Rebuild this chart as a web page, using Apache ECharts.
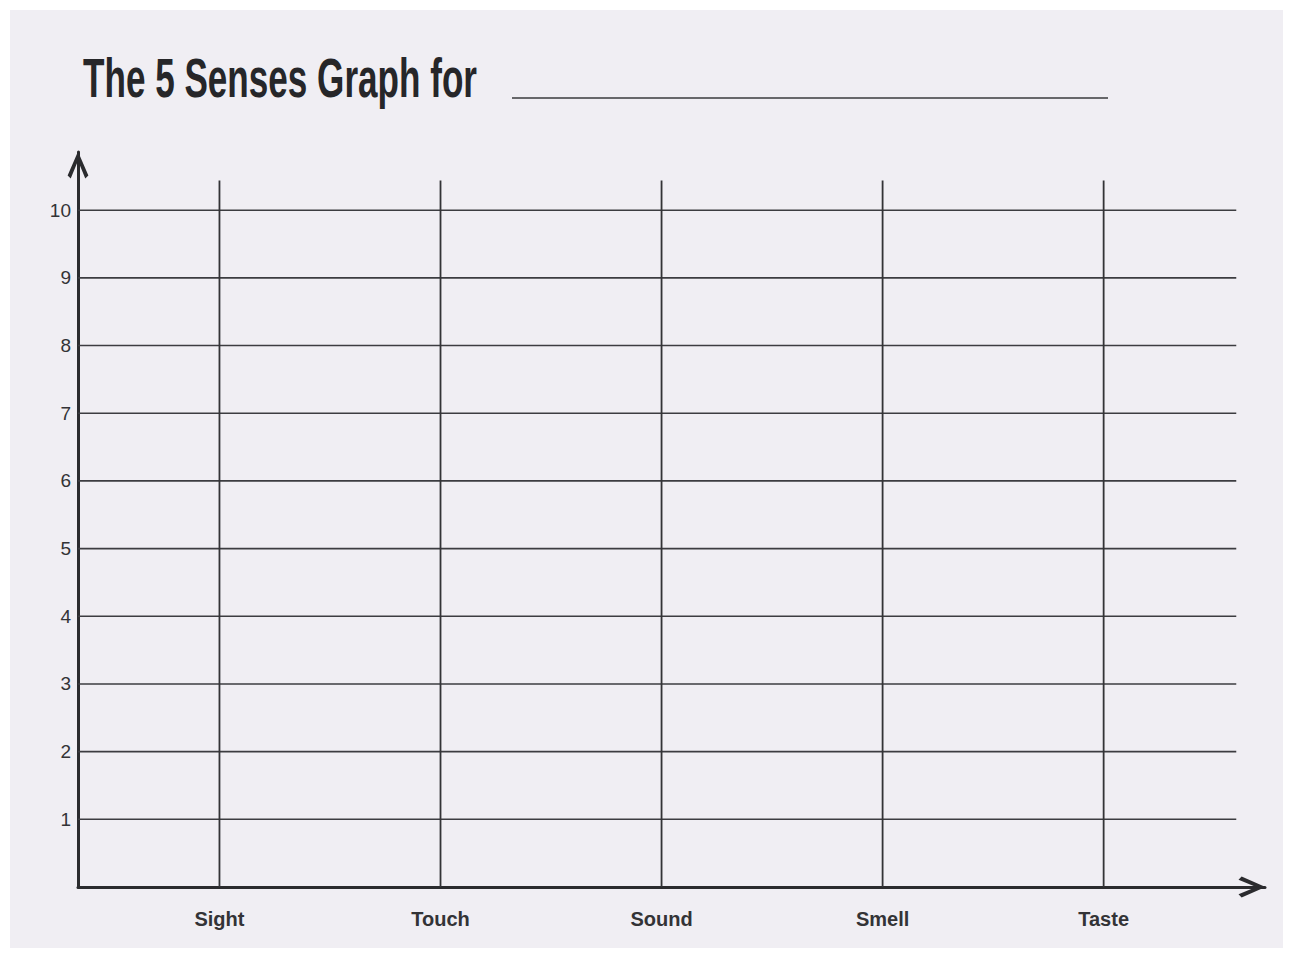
<!DOCTYPE html>
<html>
<head>
<meta charset="utf-8">
<script src="https://cdn.jsdelivr.net/npm/echarts@6/dist/echarts.min.js"></script>
<style>
  html, body { margin: 0; padding: 0; background: #ffffff; }
  #paper { position: absolute; left: 10px; top: 10px; width: 1273px; height: 938px; background: #f0eef3; }
  #chart { position: absolute; left: 0; top: 0; width: 1293px; height: 958px; }
</style>
</head>
<body>
<div id="paper"></div>
<div id="chart"></div>
<script>
// ---- data ----
const titleText = 'The 5 Senses Graph for';
const categories = ['Sight', 'Touch', 'Sound', 'Smell', 'Taste'];
const categoryPositions = [1, 2, 3, 4, 5];
const yTicks = [1, 2, 3, 4, 5, 6, 7, 8, 9, 10];
const values = [null, null, null, null, null]; // blank worksheet: no values filled in

// ---- layout constants ----
const X_MIN = 0.36, X_MAX = 5.73, H_LINE_END = 5.6;
const Y_MIN = 0, Y_MAX = 10.86, V_LINE_TOP = 10.44;
const FONT = "'Liberation Sans', Arial, sans-serif";
const TITLE_FONT_SIZE = 56;
const TITLE_WIDTH = 394;
const INK = '#2b2b2e';
const chevron = 'path://M10 0 L20 23 L17 26 L10 9 L3 26 L0 23 Z';

// measure the title so it can be condensed to the reference width
const ctx = document.createElement('canvas').getContext('2d');
ctx.font = 'bold ' + TITLE_FONT_SIZE + 'px ' + FONT;
const titleScale = TITLE_WIDTH / ctx.measureText(titleText).width;

const chart = echarts.init(document.getElementById('chart'), null, { renderer: 'svg' });

chart.setOption({
  backgroundColor: 'transparent',
  animation: false,
  graphic: [
    {
      type: 'text', x: 83, y: 50, scaleX: titleScale, scaleY: 1, originX: 0, originY: 0,
      style: {
        text: titleText, fill: '#262629', verticalAlign: 'top', align: 'left',
        font: 'bold ' + TITLE_FONT_SIZE + 'px ' + FONT
      }
    },
    {
      type: 'line',
      shape: { x1: 512, y1: 98, x2: 1108, y2: 98 },
      style: { stroke: '#3a3a3d', lineWidth: 1.5 }
    }
  ],
  grid: { left: 78, right: 28, top: 152, bottom: 71, containLabel: false },
  xAxis: {
    type: 'value', min: X_MIN, max: X_MAX,
    axisLine: {
      show: true, lineStyle: { color: INK, width: 3 },
      symbol: ['none', chevron], symbolSize: [21, 27], symbolOffset: [0, -13]
    },
    axisTick: { show: false },
    splitLine: { show: false },
    axisLabel: {
      customValues: categoryPositions,
      formatter: v => categories[Math.round(v) - 1] || '',
      margin: 22, fontFamily: FONT, fontSize: 20, fontWeight: 'bold', color: '#333336'
    }
  },
  yAxis: {
    type: 'value', min: Y_MIN, max: Y_MAX,
    axisLine: {
      show: true, lineStyle: { color: INK, width: 3 },
      symbol: ['none', chevron], symbolSize: [21, 27], symbolOffset: [0, -13]
    },
    axisTick: { show: false },
    splitLine: { show: false },
    axisLabel: {
      customValues: yTicks,
      margin: 7, fontFamily: FONT, fontSize: 19, color: '#333336'
    }
  },
  series: [
    {
      name: 'hlines', type: 'custom', silent: true,
      data: yTicks.map(v => [v]),
      renderItem: (params, api) => {
        const v = api.value(0);
        const p1 = api.coord([X_MIN, v]);
        const p2 = api.coord([H_LINE_END, v]);
        return { type: 'line', shape: { x1: p1[0], y1: p1[1], x2: p2[0], y2: p2[1] },
                 style: { stroke: '#3c3c40', lineWidth: 1.6 } };
      }
    },
    {
      name: 'vlines', type: 'custom', silent: true,
      data: categoryPositions.map(v => [v]),
      renderItem: (params, api) => {
        const x = api.value(0);
        const p1 = api.coord([x, Y_MIN]);
        const p2 = api.coord([x, V_LINE_TOP]);
        return { type: 'line', shape: { x1: p1[0], y1: p1[1], x2: p2[0], y2: p2[1] },
                 style: { stroke: '#333336', lineWidth: 1.8 } };
      }
    },
    {
      name: 'scores', type: 'scatter',
      data: categoryPositions.map((x, i) => [x, values[i]]),
      symbolSize: 10, itemStyle: { color: INK }
    }
  ]
});
</script>
</body>
</html>
